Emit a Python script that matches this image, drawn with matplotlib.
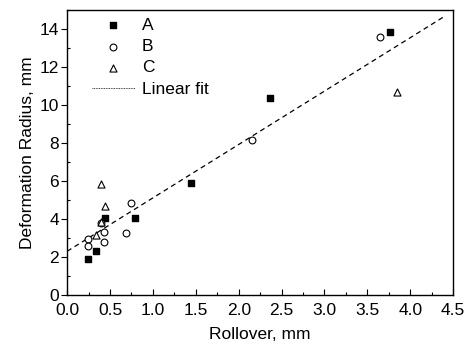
import matplotlib
matplotlib.use("Agg")
import matplotlib.pyplot as plt
import numpy as np
from matplotlib.ticker import MultipleLocator

plt.rcParams['font.family'] = ['Liberation Sans', 'DejaVu Sans']

# series A (filled squares)
a_x = [0.24, 0.34, 0.44, 0.79, 1.44, 2.36, 3.76]
a_y = [1.91, 2.32, 4.07, 4.05, 5.89, 10.38, 13.86]
# series B (open circles)
b_x = [0.24, 0.24, 0.39, 0.43, 0.43, 0.69, 0.74, 2.15, 3.65]
b_y = [2.93, 2.58, 3.77, 3.30, 2.79, 3.26, 4.84, 8.16, 13.56]
# series C (open triangles)
c_x = [0.34, 0.39, 0.44, 0.39, 3.85]
c_y = [3.17, 5.84, 4.68, 3.85, 10.70]
# linear fit
fit_intercept = 2.30
fit_slope = 2.81
fit_range = [0.0, 4.4]

fig = plt.figure(figsize=(4.76, 3.55), dpi=100)
ax = fig.add_axes([0.141, 0.169, 0.811, 0.803])

ax.scatter(a_x, a_y, marker='s', s=22, color='black', label='A', zorder=3)
ax.scatter(b_x, b_y, marker='o', s=24, facecolors='white', edgecolors='black',
           linewidths=0.8, label='B', zorder=3)
ax.scatter(c_x, c_y, marker='^', s=26, facecolors='white', edgecolors='black',
           linewidths=0.8, label='C', zorder=3)

fx = np.array(fit_range)
ax.plot(fx, fit_intercept + fit_slope * fx, color='black', lw=0.9,
        dashes=(4, 3), zorder=2)
# legend entry drawn dotted, as in the original
ax.plot([], [], color='black', lw=0.6, ls=(0, (1, 1)), label='Linear fit')

ax.set_xlim(0, 4.5)
ax.set_ylim(0, 15)
ax.xaxis.set_major_locator(MultipleLocator(0.5))
ax.xaxis.set_minor_locator(MultipleLocator(0.25))
ax.yaxis.set_major_locator(MultipleLocator(2))
ax.yaxis.set_minor_locator(MultipleLocator(1))
ax.xaxis.set_major_formatter(matplotlib.ticker.FormatStrFormatter('%.1f'))

ax.tick_params(axis='x', which='major', direction='in', length=4, width=0.8,
               labelsize=12.5, pad=6)
ax.tick_params(axis='x', which='minor', direction='in', length=2, width=0.8)
ax.tick_params(axis='y', which='major', direction='out', length=4, width=0.8,
               labelsize=12.5, pad=2)
ax.tick_params(axis='y', which='minor', direction='in', length=2, width=0.8)
for sp in ax.spines.values():
    sp.set_linewidth(1.0)

ax.set_xlabel('Rollover, mm', fontsize=12.5, labelpad=6)
ax.set_ylabel('Deformation Radius, mm', fontsize=12.5, labelpad=3)

ax.legend(loc='upper left', frameon=False, fontsize=12.5, handlelength=2.5,
          handletextpad=0.4, labelspacing=0.35, borderpad=0.0,
          bbox_to_anchor=(0.041, 1.003))

fig.savefig('out.png', dpi=100)
